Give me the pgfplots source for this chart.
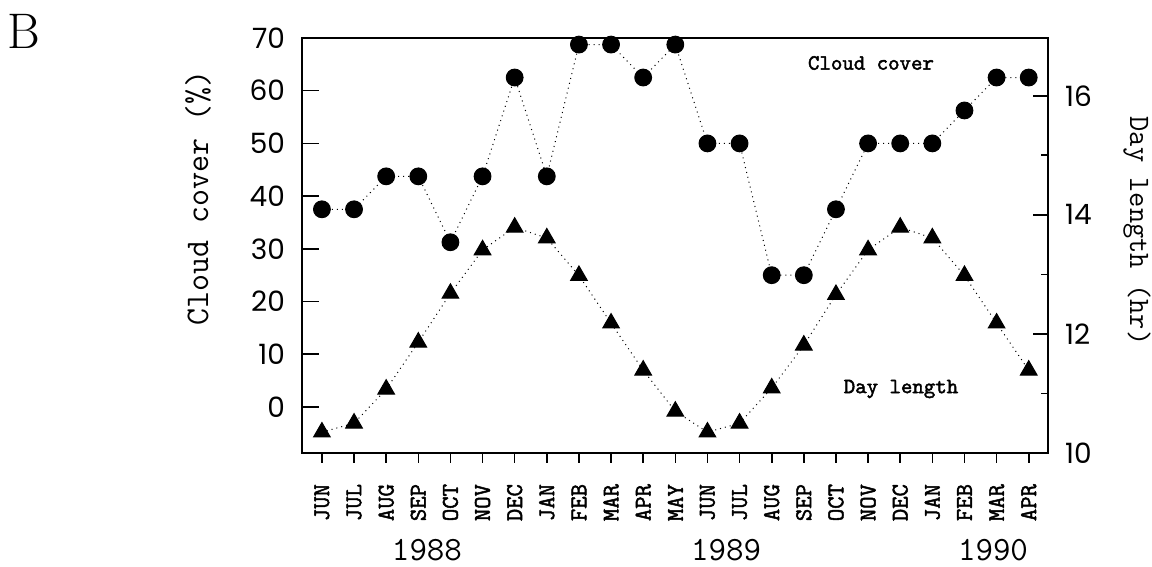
\documentclass[border=0pt]{standalone}
\usepackage{fontspec}
\usepackage{pgfplots}
\usepackage{pgfplotstable}
\pgfplotsset{compat=1.18}
\newfontfamily\tickfont{Poppins}
\newfontfamily\monobold{Latin Modern Mono}[FakeBold=2]
\newcommand\monofont{\ttfamily}

\pgfplotstableread{
x cloud day
0  37.5  10.35
1  37.5  10.50
2  43.75 11.07
3  43.75 11.86
4  31.25 12.68
5  43.75 13.41
6  62.5  13.79
7  43.75 13.61
8  68.75 12.98
9  68.75 12.18
10 62.5  11.39
11 68.75 10.70
12 50    10.35
13 50    10.50
14 25    11.09
15 25    11.81
16 37.5  12.66
17 50    13.41
18 50    13.79
19 50    13.61
20 56.25 12.98
21 62.5  12.18
22 62.5  11.39
}\data

\pgfplotsset{base/.style={scale only axis, width=373pt, height=207.5pt,
  at={(0pt,0pt)}, anchor=south west, xmin=-0.62, xmax=22.6,
  axis line style={line width=0.9pt}, clip=false,
  /pgf/number format/assume math mode=true}}

\begin{document}
\begin{tikzpicture}
% x ticks
\begin{axis}[base, ymin=-8.73, ymax=70, ytick=\empty,
  xtick={0,...,22},
  xticklabels={JUN,JUL,AUG,SEP,OCT,NOV,DEC,JAN,FEB,MAR,APR,MAY,JUN,JUL,AUG,SEP,OCT,NOV,DEC,JAN,FEB,MAR,APR},
  tick align=outside, xtick pos=bottom, major tick length=5pt,
  xticklabel shift=7pt,
  xtick style={line width=0.8pt, black},
  x tick label style={rotate=90, anchor=east, font=\monobold\fontsize{12}{13}\selectfont}]
\end{axis}
% left axis, cloud cover
\begin{axis}[base, ymin=-8.73, ymax=70, xtick=\empty,
  ytick={0,10,...,70}, ytick pos=left, tick align=inside, major tick length=8.5pt,
  ytick style={line width=0.8pt, black},
  yticklabel style={xshift=-5pt, font=\tickfont\fontsize{14}{16}\selectfont}]
\addplot[black, dotted, line width=0.5pt, mark=*, mark size=4.2pt, mark options={solid}]
  table[x=x, y=cloud]{\data};
\end{axis}
% right axis, day length
\begin{axis}[base, ymin=10, ymax=16.97, xtick=\empty,
  ytick={10,12,14,16}, minor ytick={11,13,15}, ytick pos=right, tick align=inside,
  major tick length=7.5pt, minor tick length=3.5pt,
  ytick style={line width=0.8pt, black},
  yticklabel style={xshift=5pt, font=\tickfont\fontsize{14}{16}\selectfont}]
\addplot[black, dotted, line width=0.5pt, mark=triangle*, mark size=4.8pt, mark options={solid}]
  table[x=x, y=day]{\data};
\end{axis}
\node[rotate=90, font=\monofont\fontsize{16.5}{18}\selectfont] at (-52pt,127.5pt) {Cloud cover (\%)};
\node[rotate=-90, font=\monofont\fontsize{14.8}{16}\selectfont] at (417.5pt,111pt) {Day length (hr)};
\node[font=\monobold\fontsize{10.9}{12}\selectfont] at (284.5pt,195pt) {Cloud cover};
\node[font=\monobold\fontsize{10.9}{12}\selectfont] at (299.5pt,32pt) {Day length};
\node[font=\monofont\fontsize{17}{19}\selectfont] at (62.5pt,-48.5pt) {1988};
\node[font=\monofont\fontsize{17}{19}\selectfont] at (212pt,-48.5pt) {1989};
\node[font=\monofont\fontsize{17}{19}\selectfont] at (345.5pt,-48.5pt) {1990};
\node[font=\fontsize{25}{30}\selectfont] at (-139pt,211pt) {B};
\pgfresetboundingbox
\useasboundingbox (-151pt,-57pt) rectangle (425pt,226.5pt);
\end{tikzpicture}
\end{document}
